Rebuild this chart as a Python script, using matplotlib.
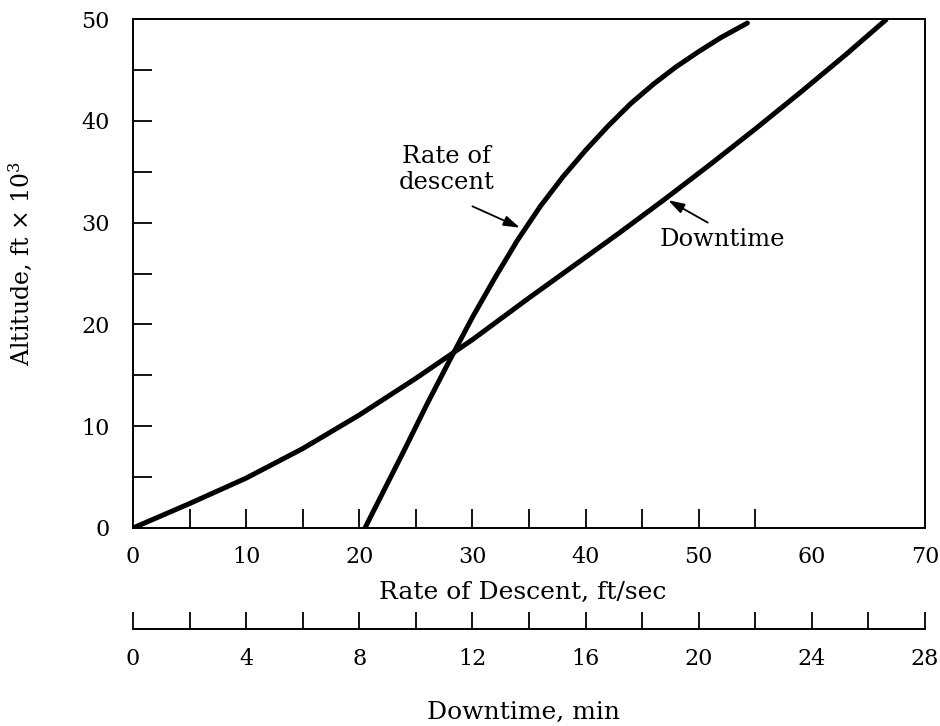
import numpy as np
import matplotlib
matplotlib.use("Agg")
from matplotlib import pyplot as plt

plt.rcParams["font.family"] = ["DejaVu Serif"]
plt.rcParams["mathtext.fontset"] = "dejavuserif"

# Rate of descent (ft/sec) vs altitude (ft x 10^3)
rate_fps = [20.5, 22.0, 24.0, 26.0, 28.0, 30.0, 32.0, 34.0, 36.0, 38.0, 40.0,
            42.0, 44.0, 46.0, 48.0, 50.0, 52.0, 54.3]
rate_alt = [0.0, 3.3, 7.7, 12.2, 16.5, 20.7, 24.6, 28.3, 31.6, 34.5, 37.1,
            39.5, 41.7, 43.6, 45.3, 46.8, 48.2, 49.6]

# Downtime (min) vs altitude (ft x 10^3)
down_min = [0.0, 2.0, 4.0, 6.0, 8.0, 10.0, 12.0, 14.0, 15.6, 17.2, 18.8,
            20.4, 22.0, 23.6, 25.2, 26.65]
down_alt = [0.0, 2.4, 4.9, 7.8, 11.1, 14.7, 18.5, 22.6, 25.8, 29.0, 32.3,
            35.7, 39.2, 42.8, 46.5, 50.0]

x_labels = [0, 10, 20, 30, 40, 50, 60, 70]
x_marks = [5, 10, 15, 20, 25, 30, 35, 40, 45, 50, 55]
y_labels = [0, 10, 20, 30, 40, 50]
y_marks = [5, 10, 15, 20, 25, 30, 35, 40, 45]
min_labels = [0, 4, 8, 12, 16, 20, 24, 28]
min_marks = list(range(0, 30, 2))

FPS_MAX = 70
MIN_MAX = 28
FS = 16      # tick labels
LFS = 18     # axis titles
AFS = 17.5   # curve notes

fig = plt.figure(figsize=(9.4, 7.26), dpi=100)
left, width = 133 / 940, 792 / 940
ax = fig.add_axes([left, 1 - 528 / 726, width, 509 / 726])

# downtime curve drawn on the ft/sec scale (both scales share the same span)
scale = FPS_MAX / MIN_MAX
ax.plot(rate_fps, rate_alt, color="black", lw=3.6, solid_capstyle="round")
ax.plot(np.array(down_min) * scale, down_alt, color="black", lw=3.6, solid_capstyle="butt")

ax.set_xlim(0, FPS_MAX)
ax.set_ylim(0, 50)
for s in ax.spines.values():
    s.set_linewidth(1.4)

ax.set_xticks(x_labels)
ax.set_yticks(y_labels)
ax.set_xticks(x_marks, minor=True)
ax.set_yticks(y_marks, minor=True)
ax.xaxis.remove_overlapping_locs = False
ax.yaxis.remove_overlapping_locs = False
ax.tick_params(which="major", length=0, labelsize=FS)
ax.tick_params(axis="x", which="major", pad=13)
ax.tick_params(axis="y", which="major", pad=17)
ax.tick_params(which="minor", direction="in", length=14, width=1.3)

ax.set_xlabel("Rate of Descent, ft/sec", fontsize=LFS, labelpad=4)
ax.xaxis.set_label_coords(0.492, -0.105)
ax.set_ylabel(r"Altitude, ft $\times$ 10$^3$", fontsize=17)
ax.yaxis.set_label_coords(-0.125, 0.52)

# curve notes with their pointer arrows
arrow = dict(arrowstyle="-|>,head_length=0.7,head_width=0.22", color="black",
             lw=1.3, mutation_scale=14, shrinkA=0, shrinkB=0)
ax.text(27.7, 35.2, "Rate of\ndescent", ha="center", va="center",
        fontsize=AFS, linespacing=1.15)
ax.annotate("", xy=(34.2, 29.5), xytext=(30.0, 31.6), arrowprops=arrow)
ax.text(52.1, 28.3, "Downtime", ha="center", va="center", fontsize=AFS)
ax.annotate("", xy=(47.3, 32.2), xytext=(50.8, 30.0), arrowprops=arrow)

# second scale: downtime in minutes
ax2 = fig.add_axes([left, 1 - 629 / 726, width, 0.01])
for name, s in ax2.spines.items():
    s.set_visible(name == "bottom")
ax2.spines["bottom"].set_linewidth(1.4)
ax2.set_xlim(0, MIN_MAX)
ax2.set_yticks([])
ax2.set_xticks(min_labels)
ax2.set_xticks(min_marks, minor=True)
ax2.xaxis.remove_overlapping_locs = False
ax2.tick_params(which="major", length=0, labelsize=FS, pad=14)
ax2.tick_params(which="minor", direction="in", length=12, width=1.3)
ax2.set_xlabel("Downtime, min", fontsize=LFS)
ax2.xaxis.set_label_coords(0.493, -9.9)
ax2.patch.set_visible(False)

fig.savefig("out.png", dpi=100)
